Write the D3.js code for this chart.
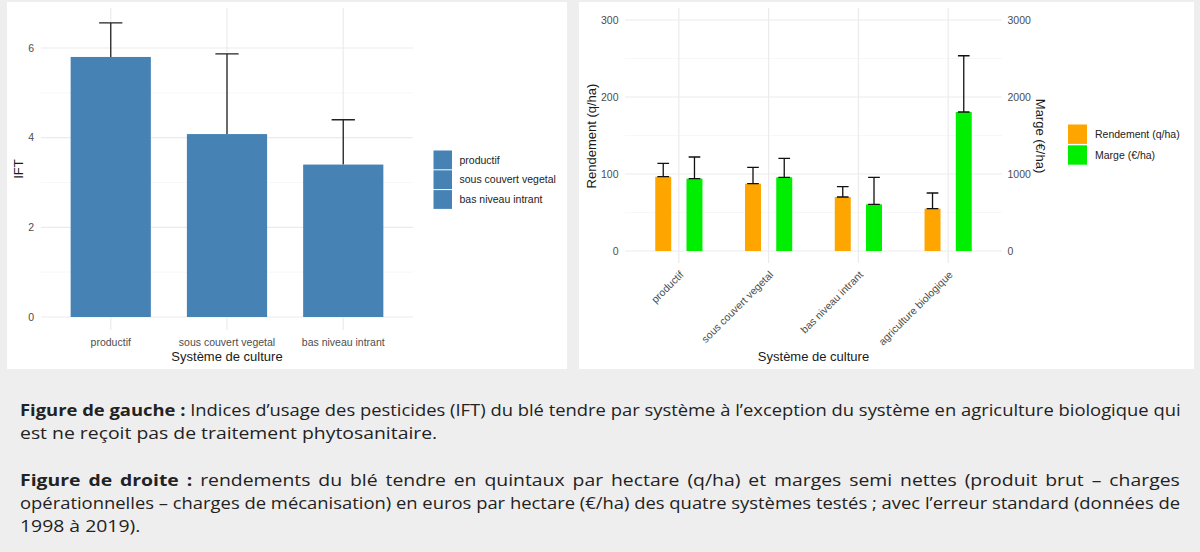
<!DOCTYPE html>
<html>
<head>
<meta charset="utf-8">
<script src="https://cdn.jsdelivr.net/npm/d3@7"></script>
<style>
body { margin: 0; background: #efeeee; width: 1200px; height: 552px; overflow: hidden; position: relative; font-family: "Liberation Sans", Arial, sans-serif; }
svg { position: absolute; left: 0; top: 0; }
.cap { position: absolute; left: 20px; font-family: "Open Sans", sans-serif; font-size: 15.5px; color: #222; white-space: nowrap; line-height: 20px; transform-origin: 0 50%; }
.cap b { font-weight: 700; }
</style>
</head>
<body>
<svg id="chart" width="1200" height="372"></svg>
<div id="caption"></div>
<script>
// figure de gauche
const iftCats = ["productif", "sous couvert vegetal", "bas niveau intrant"];
const iftValues = [5.80, 4.08, 3.40];
const iftErrors = [0.76, 1.79, 1.00];
const iftTicks = [0, 2, 4, 6];
const iftMinor = [1, 3, 5];

// figure de droite
const sysCats = ["productif", "sous couvert vegetal", "bas niveau intrant", "agriculture biologique"];
const rendement = [96.5, 87.4, 70.1, 55.0];
const rendementErr = [17.4, 21.3, 13.4, 20.3];
const marge = [940, 957, 606, 1805];
const margeErr = [281, 247, 351, 731];
const rendTicks = [0, 100, 200, 300];
const rendMinor = [50, 150, 250];
const margeTicks = [0, 1000, 2000, 3000];

const legendRight = ["Rendement (q/ha)", "Marge (€/ha)"];
const colRend = "#ffa500", colMarge = "#00ee00", colIft = "#4682b4";

const svg = d3.select("#chart");
const tickColor = "#4d4d4d", titleColor = "#1a1a1a";

// panels
svg.append("rect").attr("x", 7).attr("y", 2).attr("width", 560).attr("height", 367).attr("fill", "#fff");
svg.append("rect").attr("x", 579).attr("y", 2).attr("width", 615).attr("height", 367).attr("fill", "#fff");

function grid(g, yScale, major, minor, x0, x1) {
    g.selectAll(".minor").data(minor).join("line")
        .attr("x1", x0).attr("x2", x1)
        .attr("y1", d => yScale(d)).attr("y2", d => yScale(d))
        .attr("stroke", "#f3f3f3").attr("stroke-width", 0.7);
    g.selectAll(".major").data(major).join("line")
        .attr("x1", x0).attr("x2", x1)
        .attr("y1", d => yScale(d)).attr("y2", d => yScale(d))
        .attr("stroke", "#ebebeb").attr("stroke-width", 1.2);
}

// ---------- left chart ----------
const xL = d3.scalePoint().domain(iftCats).range([41, 413]).padding(0.6);
const yL = d3.scaleLinear().domain([0, 6]).range([317, 48]);
const gL = svg.append("g");
const topL = 8, botL = 330;

grid(gL.append("g"), yL, iftTicks, iftMinor, 41, 413);
gL.append("g").selectAll("line").data(iftCats).join("line")
    .attr("x1", d => xL(d)).attr("x2", d => xL(d))
    .attr("y1", topL).attr("y2", botL)
    .attr("stroke", "#ebebeb").attr("stroke-width", 1.2);

const bwL = 0.69 * xL.step();
const capL = 0.2 * xL.step();
const iftData = iftCats.map((c, i) => ({ c, v: iftValues[i], e: iftErrors[i] }));

gL.selectAll(".errL").data(iftData).join("path")
    .attr("d", d => `M${xL(d.c)},${yL(d.v)}V${yL(d.v + d.e)}M${xL(d.c) - capL / 2},${yL(d.v + d.e)}H${xL(d.c) + capL / 2}`)
    .attr("stroke", "#222").attr("stroke-width", 1.3).attr("fill", "none");

gL.selectAll(".barL").data(iftData).join("rect")
    .attr("x", d => xL(d.c) - bwL / 2)
    .attr("y", d => yL(d.v))
    .attr("width", bwL)
    .attr("height", d => yL(0) - yL(d.v))
    .attr("fill", colIft);

gL.selectAll(".ytL").data(iftTicks).join("text")
    .attr("x", 34).attr("y", d => yL(d)).attr("dy", "0.35em")
    .attr("text-anchor", "end").attr("font-size", 10.5).attr("fill", tickColor)
    .text(d => d);

gL.selectAll(".xtL").data(iftCats).join("text")
    .attr("x", d => xL(d)).attr("y", 342).attr("dy", "0.35em")
    .attr("text-anchor", "middle").attr("font-size", 10.5).attr("fill", tickColor)
    .text(d => d);

gL.append("text").attr("x", 227).attr("y", 356).attr("dy", "0.35em")
    .attr("text-anchor", "middle").attr("font-size", 13).attr("fill", titleColor)
    .text("Système de culture");
gL.append("text").attr("transform", "translate(18.5,169) rotate(-90)").attr("dy", "0.35em")
    .attr("text-anchor", "middle").attr("font-size", 13).attr("fill", titleColor)
    .text("IFT");

const legL = gL.append("g").attr("transform", "translate(433.5,150)");
legL.selectAll("rect").data(iftCats).join("rect")
    .attr("x", 0).attr("y", (d, i) => i * 19.8 + 0.5)
    .attr("width", 18.5).attr("height", 18.8)
    .attr("fill", colIft);
legL.selectAll("text").data(iftCats).join("text")
    .attr("x", 26).attr("y", (d, i) => i * 19.8 + 10).attr("dy", "0.35em")
    .attr("font-size", 10.5).attr("fill", "#222")
    .text(d => d);

// ---------- right chart ----------
const xR = d3.scalePoint().domain(sysCats).range([625, 1002]).padding(0.6);
const yR = d3.scaleLinear().domain([0, 300]).range([251, 20]);
const yR2 = d3.scaleLinear().domain([0, 3000]).range([251, 20]);
const gR = svg.append("g");
const topR = 8, botR = 263;

grid(gR.append("g"), yR, rendTicks, rendMinor, 625, 1002);
gR.append("g").selectAll("line").data(sysCats).join("line")
    .attr("x1", d => xR(d)).attr("x2", d => xR(d))
    .attr("y1", topR).attr("y2", botR)
    .attr("stroke", "#ebebeb").attr("stroke-width", 1.2);

const stepR = xR.step();
const offR = 0.174 * stepR, bwR = 0.178 * stepR, capR = 0.13 * stepR;
const rightData = [];
sysCats.forEach((c, i) => {
    rightData.push({ c, x: xR(c) - offR, y0: yR(0), y1: yR(rendement[i]), ye: yR(rendement[i] + rendementErr[i]), col: colRend });
    rightData.push({ c, x: xR(c) + offR, y0: yR2(0), y1: yR2(marge[i]), ye: yR2(marge[i] + margeErr[i]), col: colMarge });
});

gR.selectAll(".barR").data(rightData).join("rect")
    .attr("x", d => d.x - bwR / 2)
    .attr("y", d => d.y1)
    .attr("width", bwR)
    .attr("height", d => d.y0 - d.y1)
    .attr("fill", d => d.col);

gR.selectAll(".errR").data(rightData).join("path")
    .attr("d", d => `M${d.x},${d.y1}V${d.ye}M${d.x - capR / 2},${d.ye}H${d.x + capR / 2}M${d.x - capR / 2},${d.y1}H${d.x + capR / 2}`)
    .attr("stroke", "#111").attr("stroke-width", 1.3).attr("fill", "none");

gR.selectAll(".ytR").data(rendTicks).join("text")
    .attr("x", 618.5).attr("y", d => yR(d)).attr("dy", "0.35em")
    .attr("text-anchor", "end").attr("font-size", 10.5).attr("fill", tickColor)
    .text(d => d);
gR.selectAll(".ytR2").data(margeTicks).join("text")
    .attr("x", 1007.5).attr("y", d => yR2(d)).attr("dy", "0.35em")
    .attr("text-anchor", "start").attr("font-size", 10.5).attr("fill", tickColor)
    .text(d => d);

gR.selectAll(".xtR").data(sysCats).join("text")
    .attr("transform", d => `translate(${xR(d)},${270}) rotate(-45)`)
    .attr("dy", "0.72em")
    .attr("text-anchor", "end").attr("font-size", 10.5).attr("fill", tickColor)
    .text(d => d);

gR.append("text").attr("x", 813.5).attr("y", 356).attr("dy", "0.35em")
    .attr("text-anchor", "middle").attr("font-size", 13).attr("fill", titleColor)
    .text("Système de culture");
gR.append("text").attr("transform", "translate(591,136) rotate(-90)").attr("dy", "0.35em")
    .attr("text-anchor", "middle").attr("font-size", 13).attr("fill", titleColor)
    .text("Rendement (q/ha)");
gR.append("text").attr("transform", "translate(1041,136) rotate(90)").attr("dy", "0.35em")
    .attr("text-anchor", "middle").attr("font-size", 13).attr("fill", titleColor)
    .text("Marge (€/ha)");

const legR = gR.append("g").attr("transform", "translate(1068,124.5)");
legR.selectAll("rect").data(legendRight).join("rect")
    .attr("x", 0).attr("y", (d, i) => i * 20.8)
    .attr("width", 19).attr("height", 19.4)
    .attr("fill", (d, i) => i === 0 ? colRend : colMarge);
legR.selectAll("text").data(legendRight).join("text")
    .attr("x", 27).attr("y", (d, i) => i * 20.8 + 10).attr("dy", "0.35em")
    .attr("font-size", 10.5).attr("fill", "#222")
    .text(d => d);

// ---------- caption ----------
const captionLines = [
    { y: 410, b: "Figure de gauche :", t: " Indices d’usage des pesticides (IFT) du blé tendre par système à l’exception du système en agriculture biologique qui", just: true },
    { y: 433, b: "", t: "est ne reçoit pas de traitement phytosanitaire.", just: false },
    { y: 480, b: "Figure de droite :", t: " rendements du blé tendre en quintaux par hectare (q/ha) et marges semi nettes (produit brut – charges", just: true },
    { y: 503, b: "", t: "opérationnelles – charges de mécanisation) en euros par hectare (€/ha) des quatre systèmes testés ; avec l’erreur standard (données de", just: true },
    { y: 526, b: "", t: "1998 à 2019).", just: false }
];

// police d'origine plus large : étirement horizontal, limité pour tenir dans 1160 px
const stretch = 1.25;
const cap = d3.select("#caption");
captionLines.forEach(l => {
    const div = cap.append("div").attr("class", "cap").style("top", (l.y - 10) + "px");
    if (l.b) div.append("b").text(l.b);
    div.append("span").text(l.t);
    let s = stretch;
    if (l.just) {
        const w = div.node().offsetWidth;
        s = Math.min(stretch, 1160 / w);
        const n = (l.b + l.t).split(" ").length - 1;
        div.style("word-spacing", Math.max(0, (1160 / s - w) / n) + "px");
    }
    div.style("transform", `scaleX(${s})`);
});
</script>
</body>
</html>
